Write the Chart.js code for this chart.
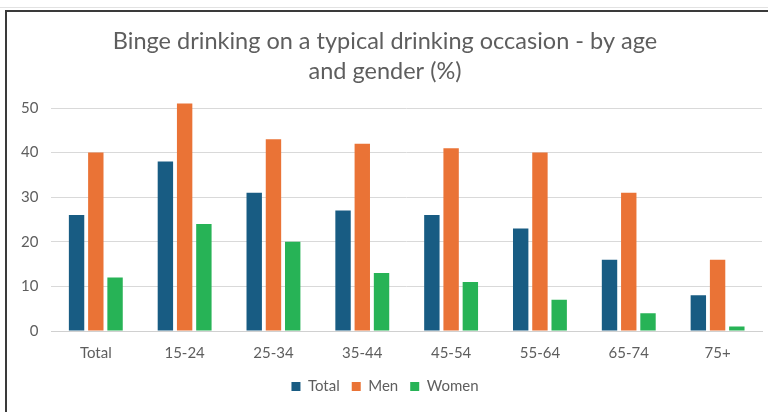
<!DOCTYPE html>
<html>
<head>
<meta charset="utf-8">
<script src="https://cdn.jsdelivr.net/npm/chart.js@4"></script>
<style>
  html, body { margin: 0; padding: 0; background: #ffffff; }
  #page { position: relative; width: 768px; height: 412px; overflow: hidden; background: #fff; }
  #topline { position: absolute; left: 0; top: 7px; width: 768px; height: 1px; background: #e2e2e2; }
  #frame {
    position: absolute; left: 5px; top: 10px; width: 763px; height: 402px;
    border-top: 2px solid #3a3a3a; border-left: 2px solid #3a3a3a; box-sizing: border-box;
  }
  #wrap { position: absolute; left: 7px; top: 12px; width: 761px; height: 400px; }
</style>
</head>
<body>
<div id="page">
  <div id="topline"></div>
  <div id="frame"></div>
  <div id="wrap"><canvas id="c" width="761" height="400"></canvas></div>
</div>
<script>
// Age groups and binge drinking shares (%)
const categories = ['Total', '15-24', '25-34', '35-44', '45-54', '55-64', '65-74', '75+'];
const totalValues = [26, 38, 31, 27, 26, 23, 16, 8];
const menValues   = [40, 51, 43, 42, 41, 40, 31, 16];
const womenValues = [12, 24, 20, 13, 11, 7, 4, 1];
const yTicks = [0, 10, 20, 30, 40, 50];

const textColor = '#5e5e5e';
const tickFont = { family: 'Lato, "Open Sans", sans-serif', size: 15 };

new Chart(document.getElementById('c'), {
  type: 'bar',
  data: {
    labels: categories,
    datasets: [
      { label: 'Total', data: totalValues, backgroundColor: '#185c83' },
      { label: 'Men',   data: menValues,   backgroundColor: '#ea7336' },
      { label: 'Women', data: womenValues, backgroundColor: '#27b356' }
    ]
  },
  options: {
    responsive: false,
    animation: false,
    layout: { padding: { left: 1, right: 6, top: 14, bottom: 8 } },
    datasets: { bar: { barPercentage: 0.8, categoryPercentage: 0.65 } },
    plugins: {
      title: {
        display: true,
        text: ['Binge drinking on a typical drinking occasion - by age', 'and gender (%)'],
        color: textColor,
        font: { family: 'Lato, "Open Sans", sans-serif', size: 23.5, weight: 'normal', lineHeight: 1.3 },
        padding: { top: 0, bottom: 12 }
      },
      legend: {
        position: 'bottom',
        labels: {
          color: textColor,
          font: tickFont,
          boxWidth: 9,
          boxHeight: 9,
          padding: 12
        }
      },
      tooltip: { enabled: false }
    },
    scales: {
      x: {
        grid: { display: false },
        border: { display: true, color: '#d0d0d0' },
        ticks: { color: textColor, font: tickFont, padding: 5 }
      },
      y: {
        min: 0,
        max: 52,
        afterBuildTicks: (axis) => { axis.ticks = yTicks.map(v => ({ value: v })); },
        grid: { color: '#d9d9d9', drawTicks: false },
        border: { display: false },
        ticks: { color: textColor, font: tickFont, padding: 13 }
      }
    }
  }
});
</script>
</body>
</html>
